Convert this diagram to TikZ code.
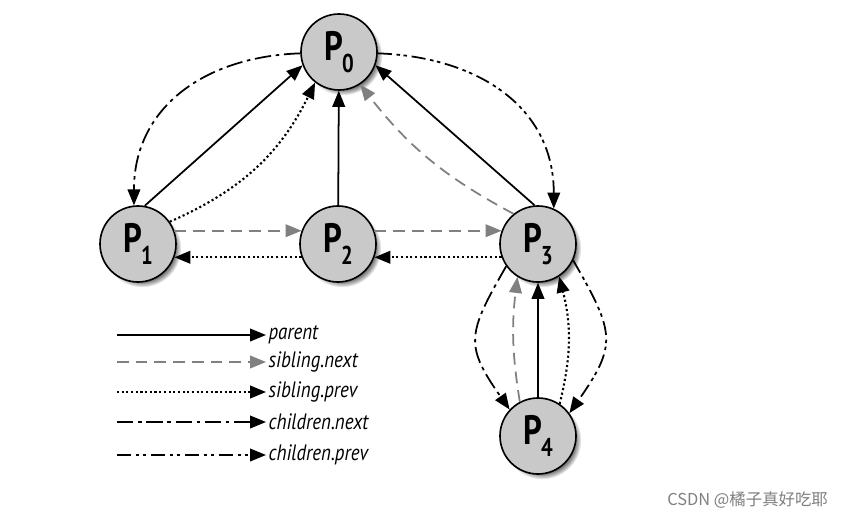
\documentclass[tikz,border=0pt]{standalone}
\usepackage{fontspec}
\newfontfamily\labelfont[FakeStretch = 0.8]{PT Sans}
\newfontfamily\keyfont[FakeStretch = 0.85]{PT Sans}
\newfontfamily\cjk{Noto Sans CJK SC}
\usetikzlibrary{arrows.meta,shadows}
\newcommand\pname[1]{P\kern-.02em\raisebox{-.28em}{\fontsize{22}{22}\selectfont #1}}

\begin{document}
\begin{tikzpicture}[x = 0.03cm, y = 0.03cm,
		proc/.style = {circle, draw, line width = 1.4pt, fill = gray!42, minimum size = 2.28cm, inner sep = 0pt,
			circular drop shadow = {shadow xshift = .12cm, shadow yshift = -.12cm, shadow scale = 1.03},
			font = \labelfont\bfseries\fontsize{35}{35}\selectfont},
		tip/.style = {-{Triangle[length = 4.8mm, width = 3.8mm]}},
		parent/.style = {tip, line width = 1.5pt},
		snext/.style = {tip, line width = 1.5pt, gray, dash pattern = on 10pt off 6pt},
		sprev/.style = {tip, line width = 1.8pt, dash pattern = on 1.8pt off 2.2pt},
		cnext/.style = {tip, line width = 1.5pt, dash pattern = on 14pt off 4pt on 3pt off 4pt},
		cprev/.style = {tip, line width = 1.5pt, dash pattern = on 12pt off 4pt on 3pt off 3pt on 3pt off 4pt},
		key/.style = {anchor = west, inner sep = 2pt, font = \keyfont\itshape\fontsize{19}{19}\selectfont}]
	% page
	\fill[white] (0, 0) rectangle (846, 520);
	\useasboundingbox (0, 0) rectangle (846, 520);
	% the processes
	\node[proc] (p0) at (339, 468) {\pname{0}};
	\node[proc] (p1) at (138, 276) {\pname{1}};
	\node[proc] (p2) at (338, 276) {\pname{2}};
	\node[proc] (p3) at (538, 276) {\pname{3}};
	\node[proc] (p4) at (538, 84)  {\pname{4}};
	% parent
	\draw[parent] (p1.80) -- (p0.200);
	\draw[parent] (p2) -- (p0);
	\draw[parent] (p3.95) -- (p0.-20);
	\draw[parent] (p4) -- (p3);
	% sibling.next
	\draw[snext] (p1.20) -- (p2.160);
	\draw[snext] (p2.20) -- (p3.160);
	\draw[snext] (p3.129) to[bend left = 12] (p0.-57);
	\draw[snext] (p4.118) to[bend left = 8] (p3.238);
	% sibling.prev
	\draw[sprev] (p3.200) -- (p2.-20);
	\draw[sprev] (p2.200) -- (p1.-20);
	\draw[sprev] (p1.35) to[bend right = 20] (p0.232);
	\draw[sprev] (p4.56) to[bend right = 14] (p3.-57);
	% children.next
	\draw[cnext] (p0.182) to[out = 182, in = 90, looseness = 1.1] (p1.96);
	\draw[cnext] (p3.215) to[out = 240, in = 125, looseness = 1.4] (p4.137);
	% children.prev
	\draw[cprev] (p0.-2) to[out = -2, in = 90, looseness = 1.1] (p3.66);
	\draw[cprev] (p3.-25) to[out = -60, in = 55, looseness = 1.4] (p4.36);
	% legend
	\coordinate (k1) at (117, 185);
	\coordinate (k2) at (117, 158);
	\coordinate (k3) at (117, 128);
	\coordinate (k4) at (117, 98);
	\coordinate (k5) at (117, 65);
	\node[key] (t1) at (266, 185) {parent};
	\node[key] (t2) at (266, 158) {sibling.next};
	\node[key] (t3) at (266, 128) {sibling.prev};
	\node[key] (t4) at (266, 98)  {children.next};
	\node[key] (t5) at (266, 65)  {children.prev};
	\draw[parent] (k1) -- (t1);
	\draw[snext]  (k2) -- (t2);
	\draw[sprev]  (k3) -- (t3);
	\draw[cnext]  (k4) -- (t4);
	\draw[cprev]  (k5) -- (t5);
	% watermark
	\node[anchor = east, gray, font = \cjk\fontsize{14}{14}\selectfont] (wm) at (832, 20) {CSDN @橘子真好吃耶};
\end{tikzpicture}
\end{document}
